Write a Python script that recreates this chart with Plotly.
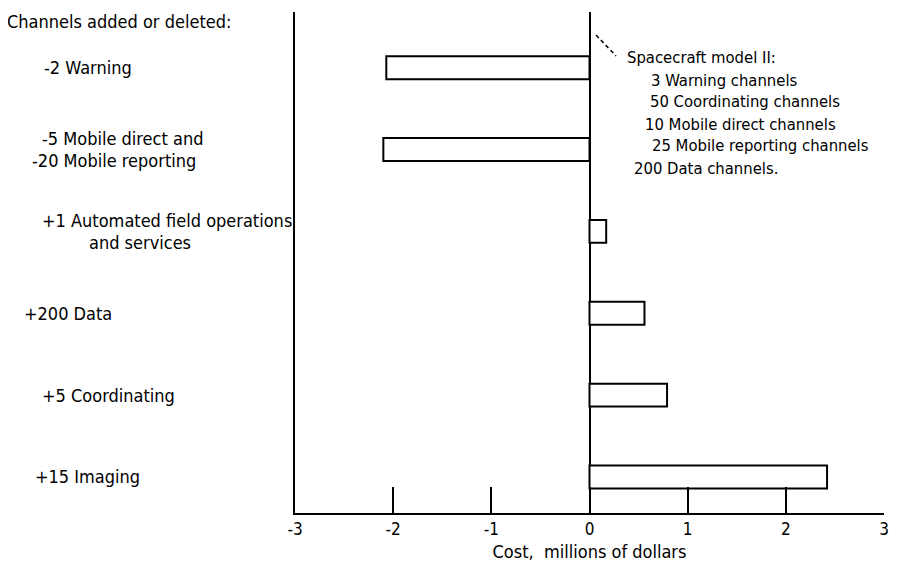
import plotly.graph_objects as go

# ---- data ----
categories = [
    "-2 Warning",
    "-5 Mobile direct and<br>-20 Mobile reporting",
    "+1 Automated field operations<br>and services",
    "+200 Data",
    "+5 Coordinating",
    "+15 Imaging",
]
cost_millions = [-2.07, -2.10, 0.17, 0.56, 0.79, 2.42]
x_ticks = [-3, -2, -1, 0, 1, 2, 3]
x_title = "Cost,  millions of dollars"
left_header = "Channels added or deleted:"
model_note = [
    "Spacecraft model II:",
    "3 Warning channels",
    "50 Coordinating channels",
    "10 Mobile direct channels",
    "25 Mobile reporting channels",
    "200 Data channels.",
]

# ---- layout / style ----
OFF = 8  # page body margin of the browser
W, H = 902 - OFF, 566 - OFF
ML, MR, MT, MB = 295 - OFF, 18, 12 - OFF, 53
PW, PH = W - ML - MR, H - MT - MB
FONT = "DejaVu Sans Condensed, Liberation Sans Narrow, sans-serif"
FS_LABEL = 18
FS_NOTE = 16.5
FS_TICK = 17
FS_TITLE = 18

def px(x):
    return (x - OFF - ML) / PW

def py(y):
    return (H - MB - (y - OFF)) / PH

# left indentation (pixels) of each label line
label_lines_left = [[42], [40, 30], [40, 87], [22], [40], [33]]
note_left = [625, 649, 648, 643, 650, 632]

fig = go.Figure()
fig.add_trace(go.Bar(
    x=cost_millions, y=categories, orientation="h",
    marker=dict(color="white", line=dict(color="black", width=2)),
    width=0.28, showlegend=False, hoverinfo="x+y",
))

ann = []
ann.append(dict(text=left_header, xref="paper", yref="paper",
                x=px(5), y=py(22), xanchor="left", yanchor="middle",
                showarrow=False, font=dict(size=FS_LABEL)))
for cat, lefts in zip(categories, label_lines_left):
    lines = cat.split("<br>")
    n = len(lines)
    for i, (ln, lx) in enumerate(zip(lines, lefts)):
        shift = (-(i - (n - 1) / 2)) * 22
        ann.append(dict(text=ln, xref="paper", yref="y", x=px(lx), y=cat,
                        xanchor="left", yanchor="middle", yshift=shift,
                        showarrow=False, font=dict(size=FS_LABEL)))
for i, (t, lx) in enumerate(zip(model_note, note_left)):
    ann.append(dict(text=t, xref="paper", yref="paper", x=px(lx),
                    y=py(58 + 22 * i), xanchor="left", yanchor="middle",
                    showarrow=False, font=dict(size=FS_NOTE)))

fig.update_layout(
    width=W, height=H,
    margin=dict(l=ML, r=MR, t=MT, b=MB, autoexpand=False),
    paper_bgcolor="white", plot_bgcolor="white",
    font=dict(family=FONT, size=FS_LABEL, color="black"),
    annotations=ann,
    shapes=[dict(type="line", xref="paper", yref="paper",
                 x0=px(596), y0=py(35), x1=px(616), y1=py(56),
                 line=dict(color="black", width=1.5, dash="4px,3px"))],
    xaxis=dict(range=[-3, 3], tickvals=x_ticks, ticktext=[str(v) for v in x_ticks],
               ticks="inside", ticklen=26, tickwidth=2, tickcolor="black",
               showline=True, linecolor="black", linewidth=2,
               showgrid=False, zeroline=True, zerolinecolor="black",
               zerolinewidth=2, tickfont=dict(size=FS_TICK),
               title=dict(text=x_title, standoff=7, font=dict(size=FS_TITLE))),
    yaxis=dict(type="category", range=[5.44, -0.68], showticklabels=False,
               ticks="", showgrid=False, zeroline=False,
               showline=True, linecolor="black", linewidth=2),
    bargap=0.7,
)

fig.write_html("out.html")
